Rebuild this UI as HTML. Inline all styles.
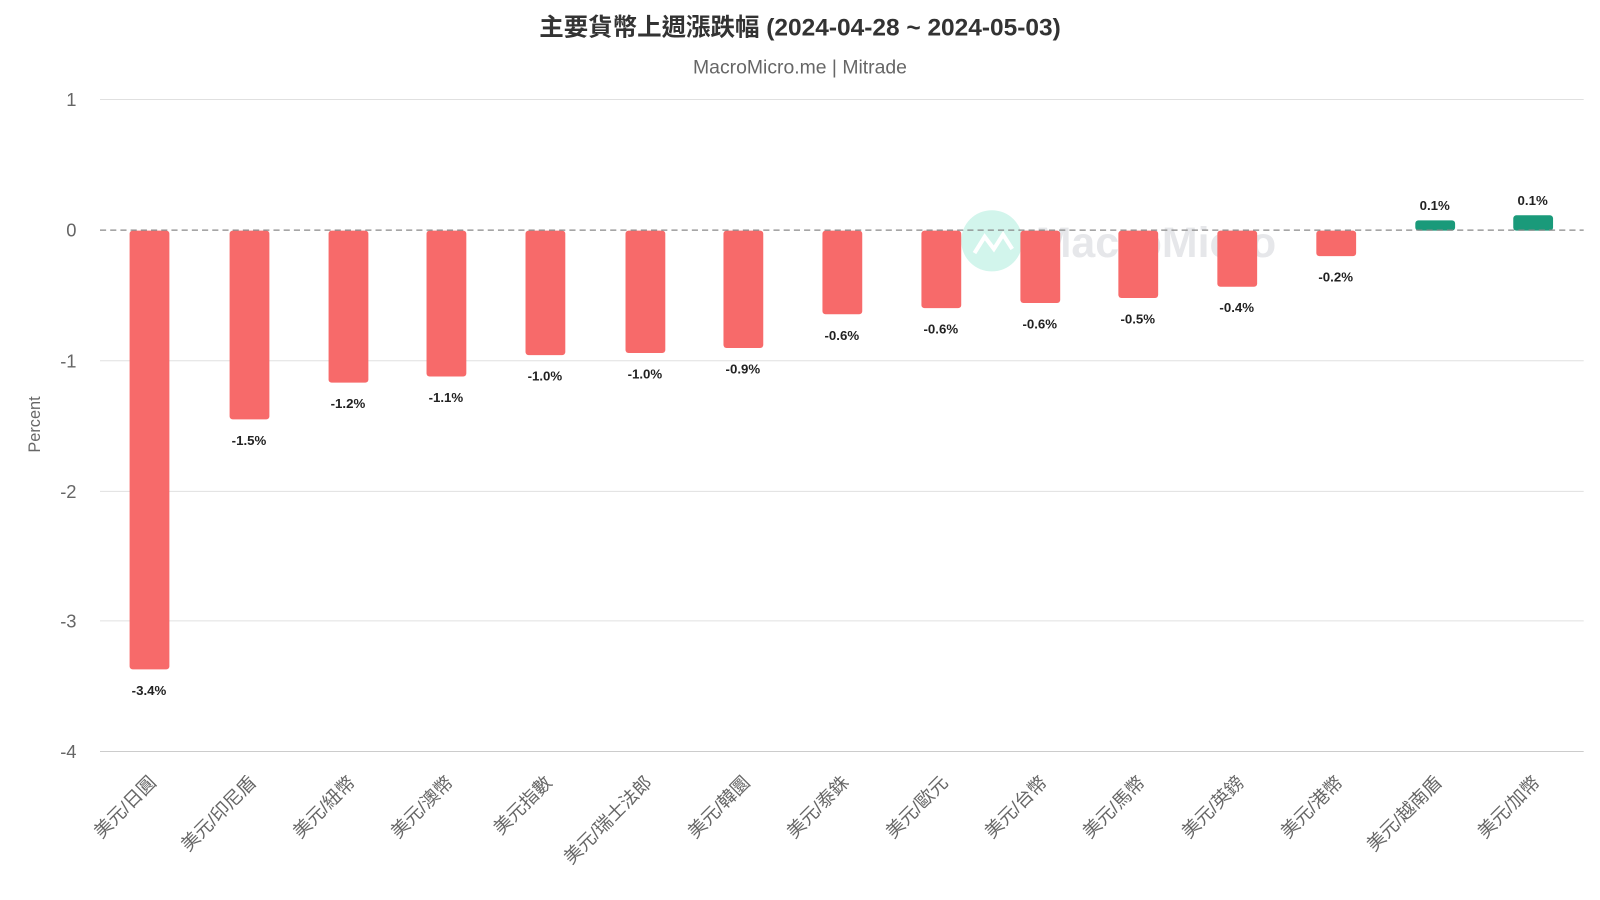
<!DOCTYPE html>
<html><head><meta charset="utf-8"><style>
body{margin:0;background:#fff;}
svg{display:block;font-family:"Liberation Sans","Noto Sans CJK TC",sans-serif;}
</style></head><body>
<svg width="1600" height="900" viewBox="0 0 1568 882" preserveAspectRatio="none">
<text x="784" y="35" text-anchor="middle" font-size="24" font-weight="bold" fill="#333">主要貨幣上週漲跌幅 (2024-04-28 ~ 2024-05-03)</text>
<text x="784" y="72" text-anchor="middle" font-size="19" fill="#666">MacroMicro.me | Mitrade</text>
<g stroke="#e0e0e0" stroke-width="1">
<line x1="98" x2="1552" y1="97.5" y2="97.5"/>
<line x1="98" x2="1552" y1="353.5" y2="353.5"/>
<line x1="98" x2="1552" y1="481.5" y2="481.5"/>
<line x1="98" x2="1552" y1="608.5" y2="608.5"/>
<line x1="98" x2="1552" y1="736.5" y2="736.5" stroke="#ccc"/>
</g>
<g font-size="18" fill="#666" text-anchor="end">
<text x="75" y="104">1</text><text x="75" y="232">0</text><text x="75" y="360">-1</text>
<text x="75" y="488">-2</text><text x="75" y="615">-3</text><text x="75" y="743">-4</text>
</g>
<text transform="translate(39,416) rotate(-90)" text-anchor="middle" font-size="16" fill="#666">Percent</text>
<circle cx="972" cy="236" r="30" fill="#d2f5ec"/>
<polyline points="955,248 965,232 974,244 983,230 992,244" fill="none" stroke="#fff" stroke-width="4"/>
<text x="1015" y="252" font-size="42" font-weight="bold" fill="#e6e7ea">MacroMicro</text>
<g fill="#f76a6a">
<rect x="127" y="226" width="39" height="430" rx="3"/>
<rect x="225" y="226" width="39" height="185" rx="3"/>
<rect x="322" y="226" width="39" height="149" rx="3"/>
<rect x="418" y="226" width="39" height="143" rx="3"/>
<rect x="515" y="226" width="39" height="122" rx="3"/>
<rect x="613" y="226" width="39" height="120" rx="3"/>
<rect x="709" y="226" width="39" height="115" rx="3"/>
<rect x="806" y="226" width="39" height="82" rx="3"/>
<rect x="903" y="226" width="39" height="76" rx="3"/>
<rect x="1000" y="226" width="39" height="71" rx="3"/>
<rect x="1096" y="226" width="39" height="66" rx="3"/>
<rect x="1193" y="226" width="39" height="55" rx="3"/>
<rect x="1290" y="226" width="39" height="25" rx="3"/>
</g>
<g fill="#1a9a7a">
<rect x="1387" y="216" width="39" height="10" rx="3"/>
<rect x="1483" y="211" width="39" height="15" rx="3"/>
</g>
<line x1="98" x2="1552" y1="225.5" y2="225.5" stroke="#888" stroke-width="1.3" stroke-dasharray="6,4"/>
<g font-size="13" font-weight="bold" fill="#222" text-anchor="middle">
<text x="146" y="681">-3.4%</text><text x="244" y="436">-1.5%</text><text x="341" y="400">-1.2%</text>
<text x="437" y="394">-1.1%</text><text x="534" y="373">-1.0%</text><text x="632" y="371">-1.0%</text>
<text x="728" y="366">-0.9%</text><text x="825" y="333">-0.6%</text><text x="922" y="327">-0.6%</text>
<text x="1019" y="322">-0.6%</text><text x="1115" y="317">-0.5%</text><text x="1212" y="306">-0.4%</text>
<text x="1309" y="276">-0.2%</text><text x="1406" y="206">0.1%</text><text x="1502" y="201">0.1%</text>
</g>
<g font-size="18" fill="#666" text-anchor="end">
<text transform="translate(154,768) rotate(-45)">美元/日圓</text>
<text transform="translate(252,768) rotate(-45)">美元/印尼盾</text>
<text transform="translate(349,768) rotate(-45)">美元/紐幣</text>
<text transform="translate(445,768) rotate(-45)">美元/澳幣</text>
<text transform="translate(542,768) rotate(-45)">美元指數</text>
<text transform="translate(640,768) rotate(-45)">美元/瑞士法郎</text>
<text transform="translate(736,768) rotate(-45)">美元/韓圜</text>
<text transform="translate(833,768) rotate(-45)">美元/泰銖</text>
<text transform="translate(930,768) rotate(-45)">美元/歐元</text>
<text transform="translate(1027,768) rotate(-45)">美元/台幣</text>
<text transform="translate(1123,768) rotate(-45)">美元/馬幣</text>
<text transform="translate(1220,768) rotate(-45)">美元/英鎊</text>
<text transform="translate(1317,768) rotate(-45)">美元/港幣</text>
<text transform="translate(1414,768) rotate(-45)">美元/越南盾</text>
<text transform="translate(1510,768) rotate(-45)">美元/加幣</text>
</g>
</svg>
</body></html>
